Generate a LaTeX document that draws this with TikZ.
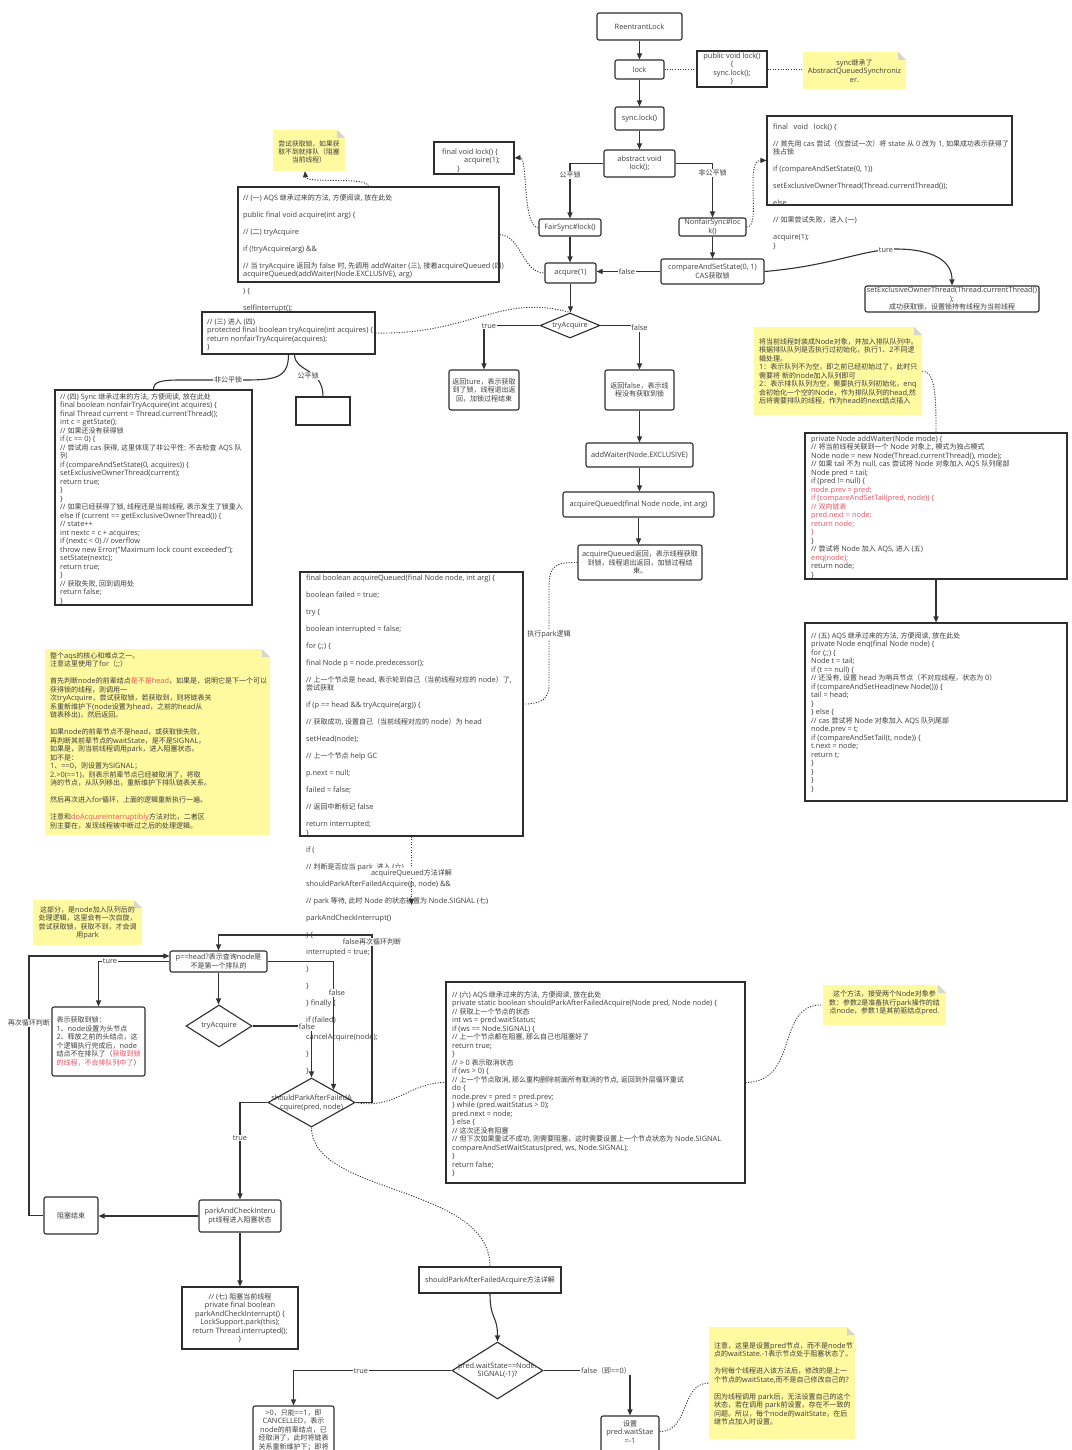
\documentclass[tikz,border=0pt]{standalone}
\usepackage{fontspec}
\setmainfont{Open Sans}[Scale=1.05]
\newfontfamily\cjkf{Noto Sans CJK SC}
\usetikzlibrary{arrows.meta,shapes.geometric}
\makeatletter
\count@="4E00
\loop \XeTeXcharclass\count@=10 \ifnum\count@<"9FFF \advance\count@ by 1 \repeat
\count@="3000
\loop \XeTeXcharclass\count@=10 \ifnum\count@<"303F \advance\count@ by 1 \repeat
\count@="FF00
\loop \XeTeXcharclass\count@=10 \ifnum\count@<"FFEF \advance\count@ by 1 \repeat
\makeatother
\XeTeXinterchartoks 0 10 = {\cjkf}
\XeTeXinterchartoks 4095 10 = {\cjkf}
\XeTeXinterchartoks 10 0 = {\rmfamily}
\XeTeXinterchartoks 10 4095 = {\rmfamily}
\XeTeXinterchartokenstate=1
\definecolor{lc}{HTML}{333333}
\definecolor{bc}{HTML}{2E2E2E}
\definecolor{tc}{HTML}{3C3C3C}
\definecolor{notey}{HTML}{FFFAA0}
\definecolor{notefold}{HTML}{D6D6CC}
\definecolor{rc}{HTML}{F04E5E}
\newcommand\cf{\fontsize{7}{8.5}\selectfont\lineskiplimit=-20pt}
\newcommand\sr{\rule{0pt}{6pt}}
\newcommand\rd[1]{\textcolor{rc}{#1}}
\newcommand\bxt[7][]{\node[#1,minimum width={(#5-#3)*1pt},minimum height={(#6-#4)*1pt}] (#2) at ({(#3+#5)/2},{(#4+#6)/2}) {#7};}
\newcommand\bx[6][]{\node[#1,minimum width={(#5-#3)*1pt},minimum height={(#6-#4)*1pt}] (#2) at ({(#3+#5)/2},{(#4+#6)/2}) {};}
\newcommand\mknote[5]{%
 \fill[notey] (#2,#3) -- ({#4-8},#3) -- (#4,{#3+8}) -- (#4,#5) -- (#2,#5) -- cycle;
 \fill[notefold] ({#4-8},#3) -- ({#4-8},{#3+8}) -- (#4,{#3+8}) -- cycle;
 \node[inner sep=0pt,minimum width={(#4-#2)*1pt},minimum height={(#5-#3)*1pt}] (#1) at ({(#2+#4)/2},{(#3+#5)/2}) {};}
\begin{document}
\begin{tikzpicture}[x=1pt,y=-1pt,
 ln/.style={draw=lc,line width=1.1pt},
 arr/.style={ln,-{Triangle[length=6pt,width=5pt]}},
 dot/.style={draw=lc,line width=0.9pt,dash pattern=on 1.1pt off 1.5pt},
 darr/.style={dot,-{Triangle[length=6pt,width=5pt]}},
 fbox/.style={draw=bc,line width=1.1pt,rounded corners=2pt,fill=white,inner sep=1pt,align=center,font=\cf,text=tc},
 cbox/.style={draw=bc,line width=1.1pt,fill=white,inner sep=1pt,align=center,font=\cf,text=tc},
 dia/.style={diamond,draw=bc,line width=1.1pt,fill=white,inner sep=0pt},
 txt/.style={inner sep=0pt,font=\cf,text=tc,align=center},
 code/.style={inner sep=0pt,font=\cf,text=tc,align=left,anchor=north west},
 lbl/.style={fill=white,inner sep=0.7pt,font=\cf,text=tc}]
\useasboundingbox[fill=white] (0,0) rectangle (1071,1450);

% ---------------- top area ----------------
\bxt[fbox]{rl}{597}{13}{682}{40}{ReentrantLock}
\bxt[fbox]{lk}{615}{60}{664}{79}{lock}
\bxt[cbox]{pub}{697}{51}{767}{87}{public void lock()\\\{\\sync.lock();\\\}}
\mknote{sn}{803}{52}{906}{89}
\node[txt] (snt) at (854.5,71) {sync继承了\\AbstractQueuedSynchroniz\\er.};
\bxt[fbox]{sl}{615}{107}{664}{130}{sync.lock()}
\bxt[fbox]{abs}{604}{150}{675}{177}{abstract void\\lock();}
\bxt[fbox]{fs}{539}{219}{601}{236}{FairSync\#lock()}
\bx[cbox]{fvl}{434}{142}{514}{174}
\node[code] (fvlt) at (442,148.2) {\sr final void lock() \{\\\hspace*{22pt}acquire(1);\\\hspace*{15pt}\}};
\bxt[fbox]{nfs}{679}{218}{746}{236}{NonfairSync\#loc\\k()}
\bx[cbox]{lkb}{767}{116}{1012}{205}
\node[code] (lkbt) at (773,123.2) {\sr final\ \ \ void\ \ \ lock() \{\\~\\
// 首先用 cas 尝试（仅尝试一次）将 state 从 0 改为 1, 如果成功表示获得了\\
独占锁\\~\\
if (compareAndSetState(0, 1))\\~\\
setExclusiveOwnerThread(Thread.currentThread());\\~\\
else\\~\\
// 如果尝试失败，进入 (一)\\~\\
acquire(1);\\
\}};
\bxt[fbox]{cas}{661}{259}{764}{284}{compareAndSetState(0, 1)\\CAS获取锁}
\bxt[fbox]{seo}{865}{286}{1039}{312}{setExclusiveOwnerThread(Thread.currentThread()\\);\\成功获取锁，设置锁持有线程为当前线程}
\bxt[fbox]{aq1}{545}{263}{596}{283}{acqure(1)}

\bx[cbox]{acq}{238}{187}{499}{282}
\node[code] (acqt) at (243,194.2) {\sr // (一) AQS 继承过来的方法, 方便阅读, 放在此处\\~\\
public final void acquire(int arg) \{\\~\\
// (二) tryAcquire\\~\\
if (!tryAcquire(arg) \&\&\\~\\
// 当 tryAcquire 返回为 false 时, 先调用 addWaiter (三), 接着acquireQueued (四)\\
acquireQueued(addWaiter(Node.EXCLUSIVE), arg)\\~\\
) \{\\~\\
selfInterrupt();\\~\\
\}};
\mknote{n2}{273}{130}{345}{171}
\node[txt,font=\fontsize{6.8}{7.6}\selectfont] (n2t) at (309,152) {尝试获取锁，如果获\\取不到就排队（阻塞\\当前线程）};

\node[dia,minimum width=60,minimum height=25] (ta) at (570,325.5) {};
\node[txt] (tat) at (ta) {tryAcquire};
\bxt[fbox]{ttr}{449}{370}{519}{410}{返回ture，表示获取\\到了锁，线程退出返\\回，加锁过程结束}
\bxt[fbox]{tfa}{605}{370}{674}{410}{返回false，表示线\\程没有获取到锁}
\bxt[fbox]{aw}{586}{443}{693}{467}{addWaiter(Node.EXCLUSIVE)}
\bxt[fbox]{aqf}{563}{492}{714}{517}{acquireQueued(final Node node, int arg)}
\bxt[fbox]{aqr}{578}{545}{702}{580}{acquireQueued返回，表示线程获取\\到锁，线程退出返回，加锁过程结\\束。}

\bx[cbox]{tap}{202}{312}{375}{354}
\node[code] (tapt) at (207,318.2) {\sr // (三) 进入 (四)\\
protected final boolean tryAcquire(int acquires) \{\\
return nonfairTryAcquire(acquires);\\
\}};
\bx[cbox]{nft}{55}{390}{252}{605}
\node[code] (nftt) at (60,393.2) {\sr // (四) Sync 继承过来的方法, 方便阅读, 放在此处\\
final boolean nonfairTryAcquire(int acquires) \{\\
final Thread current = Thread.currentThread();\\
int c = getState();\\
// 如果还没有获得锁\\
if (c == 0) \{\\
// 尝试用 cas 获得, 这里体现了非公平性: 不去检查 AQS 队\\
列\\
if (compareAndSetState(0, acquires)) \{\\
setExclusiveOwnerThread(current);\\
return true;\\
\}\\
\}\\
// 如果已经获得了锁, 线程还是当前线程, 表示发生了锁重入\\
else if (current == getExclusiveOwnerThread()) \{\\
// state++\\
int nextc = c + acquires;\\
if (nextc < 0) // overflow\\
throw new Error("Maximum lock count exceeded");\\
setState(nextc);\\
return true;\\
\}\\
// 获取失败, 回到调用处\\
return false;\\
\}};
\bx[cbox]{emp}{296}{397}{350}{425}

% ---------------- acquireQueued code ----------------
\bx[cbox]{aqc}{300}{572}{523}{836}
\node[code] (aqct) at (306,574.2) {\sr final boolean acquireQueued(final Node node, int arg) \{\\~\\
boolean failed = true;\\~\\
try \{\\~\\
boolean interrupted = false;\\~\\
for (;;) \{\\~\\
final Node p = node.predecessor();\\~\\
// 上一个节点是 head, 表示轮到自己（当前线程对应的 node）了,\\
尝试获取\\~\\
if (p == head \&\& tryAcquire(arg)) \{\\~\\
// 获取成功, 设置自己（当前线程对应的 node）为 head\\~\\
setHead(node);\\~\\
// 上一个节点 help GC\\~\\
p.next = null;\\~\\
failed = false;\\~\\
// 返回中断标记 false\\~\\
return interrupted;\\
\}\\~\\
if (\\~\\
// 判断是否应当 park, 进入 (六)\\~\\
shouldParkAfterFailedAcquire(p, node) \&\&\\~\\
// park 等待, 此时 Node 的状态被置为 Node.SIGNAL (七)\\~\\
parkAndCheckInterrupt()\\~\\
) \{\\~\\
interrupted = true;\\~\\
\}\\~\\
\}\\~\\
\} finally \{\\~\\
if (failed)\\~\\
cancelAcquire(node);\\~\\
\}\\~\\
\}};

\mknote{n3}{45}{649}{270}{835}
\node[code] (n3t) at (50,652.2) {\sr 整个aqs的核心和难点之一。\\
注意这里使用了for（;;）\\~\\
首先判断node的前辈结点\rd{是不是head}，如果是，说明它是下一个可以\\
获得锁的线程，则调用一\\
次tryAcquire，尝试获取锁，若获取到，则将链表关\\
系重新维护下(node设置为head，之前的head从\\
链表移出)，然后返回。\\~\\
如果node的前辈节点不是head，或获取锁失败，\\
再判断其前辈节点的waitState，是不是SIGNAL，\\
如果是，则当前线程调用park，进入阻塞状态。\\
如不是：\\
1、==0，则设置为SIGNAL；\\
2.>0(==1)，则表示前辈节点已经被取消了，将取\\
消的节点，从队列移出，重新维护下排队链表关系。\\~\\
然后再次进入for循环，上面的逻辑重新执行一遍。\\~\\
注意和\rd{doAcquireInterruptibly}方法对比，二者区\\
别主要在，发现线程被中断过之后的处理逻辑。};

\mknote{n4}{33}{900}{142}{945}
\node[txt] (n4t) at (87.5,923) {这部分，是node加入队列后的\\处理逻辑，这里会有一次自旋，\\尝试获取锁，获取不到，才会调\\用park};

% ---------------- right column ----------------
\mknote{n7}{754}{327}{922}{415}
\node[code] (n7t) at (759,338.2) {\sr 将当前线程封装成Node对象，并加入排队队列中。\\
根据排队队列是否执行过初始化，执行1、2不同逻\\
辑处理。\\
1：表示队列不为空，即之前已经初始过了，此时只\\
需要将 新的node加入队列即可\\
2：表示排队队列为空，需要执行队列初始化，enq\\
会初始化一个空的Node，作为排队队列的head,然\\
后将需要排队的线程，作为head的next结点插入};
\bx[cbox]{awc}{805}{433}{1067}{579}
\node[code] (awct) at (811,435.2) {\sr private Node addWaiter(Node mode) \{\\
// 将当前线程关联到一个 Node 对象上, 模式为独占模式\\
Node node = new Node(Thread.currentThread(), mode);\\
// 如果 tail 不为 null, cas 尝试将 Node 对象加入 AQS 队列尾部\\
Node pred = tail;\\
if (pred != null) \{\\
\rd{node.prev = pred;}\\
\rd{if (compareAndSetTail(pred, node)) \{}\\
\rd{// 双向链表}\\
\rd{pred.next = node;}\\
\rd{return node;}\\
\rd{\}}\\
\}\\
// 尝试将 Node 加入 AQS, 进入 (五)\\
\rd{enq(node);}\\
return node;\\
\}};
\bx[cbox]{enq}{805}{623}{1067}{801}
\node[code] (enqt) at (811,632.2) {\sr // (五) AQS 继承过来的方法, 方便阅读, 放在此处\\
private Node enq(final Node node) \{\\
for (;;) \{\\
Node t = tail;\\
if (t == null) \{\\
// 还没有, 设置 head 为哨兵节点（不对应线程，状态为 0）\\
if (compareAndSetHead(new Node())) \{\\
tail = head;\\
\}\\
\} else \{\\
// cas 尝试将 Node 对象加入 AQS 队列尾部\\
node.prev = t;\\
if (compareAndSetTail(t, node)) \{\\
t.next = node;\\
return t;\\
\}\\
\}\\
\}\\
\}};

% ---------------- lower flow ----------------
\bxt[fbox]{ph}{170}{951}{267}{972}{p==head?表示查询node是\\不是第一个排队的}
\bxt[fbox,align=left]{gl}{52}{1007}{145}{1076}{表示获取到锁：\\1、node设置为头节点\\2、释放之前的头结点，这\\个逻辑执行完成后，node\\结点不在排队了（\rd{获取到锁}\\\rd{的线程，不会排队列中了}）}
\node[dia,minimum width=66,minimum height=42] (ta2) at (219,1026) {};
\node[txt] (ta2t) at (ta2) {tryAcquire};
\node[dia,minimum width=87,minimum height=49] (sp) at (311.5,1102.5) {};
\bxt[fbox]{pc}{199}{1200}{281}{1232}{parkAndCheckInteru\\pt线程进入阻塞状态}
\bxt[fbox]{zs}{44}{1197}{98}{1234}{阻塞结束}
\bxt[cbox]{pk}{182}{1287}{298}{1349}{// (七) 阻塞当前线程\\private final boolean\\parkAndCheckInterrupt() \{\\LockSupport.park(this);\\return Thread.interrupted();\\\}}
\bxt[cbox]{spd}{419}{1267}{561}{1293}{shouldParkAfterFailedAcquire方法详解}
\node[dia,minimum width=91,minimum height=57] (pw) at (497.5,1370.5) {};
\bx[fbox]{cc}{253}{1406}{334}{1475}
\node[txt,anchor=north] (cct) at (293.5,1409.2) {\sr >0，只能==1，即\\CANCELLED，表示\\node的前辈结点，已\\经取消了，此时将链表\\关系重新维护下；即将};
\bx[fbox]{sw}{601}{1416}{659}{1475}
\node[txt,anchor=north] (swt) at (630,1420.2) {\sr 设置\\pred.waitStae\\=-1};
\mknote{n5}{709}{1327}{855}{1439}
\node[code] (n5t) at (714,1342.2) {\sr 注意，这里是设置pred节点，而不是node节\\
点的waitState.-1表示节点处于阻塞状态了。\\~\\
为何每个线程进入该方法后，修改的是上一\\
个节点的waitState,而不是自己修改自己的?\\~\\
因为线程调用 park后，无法设置自己的这个\\
状态，若在调用 park前设置，存在不一致的\\
问题。所以，每个node的waitState，在后\\
继节点加入时设置。};

\bx[cbox]{spc}{446}{982}{745}{1183}
\node[code] (spct) at (452,991.2) {\sr // (六) AQS 继承过来的方法, 方便阅读, 放在此处\\
private static boolean shouldParkAfterFailedAcquire(Node pred, Node node) \{\\
// 获取上一个节点的状态\\
int ws = pred.waitStatus;\\
if (ws == Node.SIGNAL) \{\\
// 上一个节点都在阻塞, 那么自己也阻塞好了\\
return true;\\
\}\\
// > 0 表示取消状态\\
if (ws > 0) \{\\
// 上一个节点取消, 那么重构删除前面所有取消的节点, 返回到外层循环重试\\
do \{\\
node.prev = pred = pred.prev;\\
\} while (pred.waitStatus > 0);\\
pred.next = node;\\
\} else \{\\
// 这次还没有阻塞\\
// 但下次如果重试不成功, 则需要阻塞，这时需要设置上一个节点状态为 Node.SIGNAL\\
compareAndSetWaitStatus(pred, ws, Node.SIGNAL);\\
\}\\
return false;\\
\}};
\mknote{n6}{823}{985}{946}{1025}
\node[txt] (n6t) at (884.5,1003) {这个方法，接受两个Node对象参\\数：参数2是准备执行park操作的结\\点node，参数1是其前驱结点pred.};

% ---------------- connectors ----------------
\draw[arr] (rl.south) -- (lk.north);
\draw[arr] (lk.south) -- (sl.north);
\draw[arr] (sl.south) -- (abs.north);
\draw[dot] (lk.east) -- (lk.east -| pub.west);
\draw[dot] (pub.east) -- (pub.east -| sn.west);
\draw[arr] (abs.west) -| (fs.north);
\draw[arr] (abs.east) -| (nfs.north);
\node[lbl] (lgf) at (570,175) {公平锁};
\node[lbl] (lgn) at (712.5,173) {非公平锁};
\draw[darr] (fs.west) .. controls (522,228) and (528,157) .. (fvl.east);
\draw[darr] (nfs.east) .. controls (762,228) and (744,160) .. (lkb.west);
\draw[arr] (fs.south) -- (fs.south |- aq1.north);
\draw[arr] (nfs.south) -- (nfs.south |- cas.north);
\draw[arr] (cas.west) -- (cas.west -| aq1.east);
\node[lbl] (lf1) at (627,271.5) {false};
\draw[arr] (cas.east) .. controls (830,266) and (862,250) .. (895,249) .. controls (935,249) and (952,262) .. (seo.north);
\node[lbl] (lt1) at (886,250) {ture};
\draw[dot] (acq.east) .. controls (522,236) and (522,273) .. (aq1.west);
\draw[darr] (acq.north) .. controls (368,176) and (306,184) .. ([xshift=-4pt]n2.south);
\draw[arr] (aq1.south) -- (aq1.south |- ta.north);
\draw[arr] (ta.west) -| (ttr.north);
\node[lbl] (lt2) at (489,326) {true};
\draw[arr] (ta.east) -| (tfa.north);
\node[lbl] (lf2) at (639.5,328) {false};
\draw[arr] (tfa.south) -- (tfa.south |- aw.north);
\draw[arr] (aw.south) -- (aw.south |- aqf.north);
\draw[arr] (aqf.south) -- (aqf.south |- aqr.north);
\draw[dot] (aqr.west) .. controls (552,562) and (549,568) .. (549,590) -- (549,685) .. controls (549,700) and (540,704) .. (aqc.east);
\node[lbl] (lpk) at (549,634) {执行park逻辑};
\draw[dot] (tap.east) .. controls (470,335) and (500,293) .. (ta.north);
\draw[ln] (tap.south) .. controls (288.5,378) and (275,380) .. (245,380) -- (180,380) .. controls (160,380) and (153.5,382) .. (nft.north);
\node[lbl] (lnf) at (228,380) {非公平锁};
\draw[ln] ([xshift=6pt]tap.south) .. controls (294.5,372) and (323,368) .. (emp.north);
\node[lbl] (lfa) at (308,376) {公平锁};

\coordinate (aqe) at (411.5,905);
\draw[darr] (aqc.south) -- (aqe);
\node[lbl] (lad) at (411.5,873) {acquireQueued方法详解};

\draw[arr] (ph.west) -| (gl.north);
\node[lbl] (lt3) at (110,961.5) {ture};
\draw[arr] (ph.south) -- (ph.south |- ta2.north);
\draw[arr] (ta2.east) -| (sp.north);
\node[lbl] (lf3) at (307,1027) {false};
\draw[arr] (ph.east) -| (sp.north east);
\node[lbl] (lf4) at (337,993) {false};
\coordinate (lp) at (372,935);
\draw[arr] (sp.east) -| (lp) -| (ph.north);
\node[lbl] (lf5) at (372,942) {false再次循环判断};
\draw[arr] (sp.west) -| (pc.north);
\node[lbl] (lt4) at (240,1138) {true};
\draw[arr] (pc.west) -- (pc.west -| zs.east);
\coordinate (lp2) at (29,956);
\draw[arr] (zs.west) -| (lp2) -- (lp2 -| ph.west);
\node[lbl] (lzx) at (29,1023) {再次循环判断};
\draw[arr] (pc.south) -- (pc.south |- pk.north);
\draw[dot] (sp.east) .. controls (395,1110) and (410,1082) .. (spc.west);
\draw[dot] (sp.south) .. controls (312,1195) and (490,1185) .. (spd.north);
\draw[arr] (spd.south) .. controls (490,1320) and (497.5,1315) .. (pw.north);
\draw[arr] (pw.west) -| (cc.north);
\node[lbl] (lt5) at (361,1371) {true};
\draw[arr] (pw.east) -| (sw.north);
\node[lbl] (lf6) at (606,1371) {false（即==0）};
\draw[dot] ([yshift=-16pt]sw.north east) .. controls (690,1432) and (680,1383) .. (n5.west);
\draw[dot] (spc.east) .. controls (800,1082) and (775,1003) .. (n6.west);
\draw[dot] (n7.east) .. controls (936,371) and (936,400) .. (awc.north);
\draw[arr] (awc.south) -- (enq.north);

% diamond texts on top
\node[txt] (spt) at (311.5,1103) {shouldParkAfterFailedA\\cquire(pred, node)};
\node[txt] (pwt) at (497.5,1370.5) {pred.waitState==Node.\\SIGNAL(-1)?};
\end{tikzpicture}
\end{document}
